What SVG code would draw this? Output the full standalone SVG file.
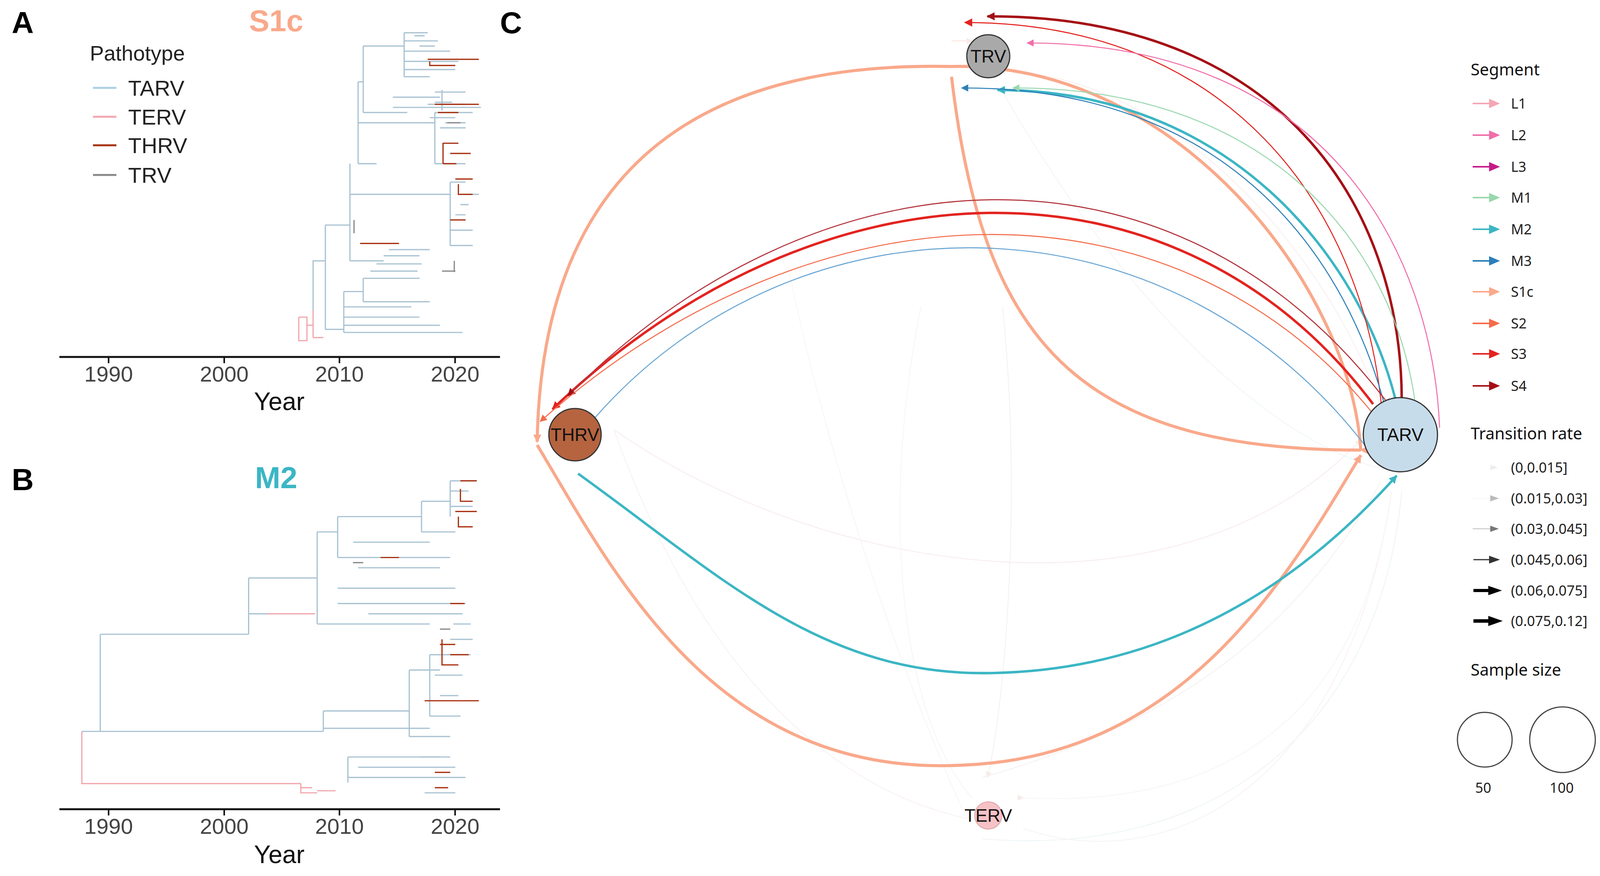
<svg xmlns="http://www.w3.org/2000/svg" width="4107" height="2243" viewBox="0 0 4107 2243">
<style>
.t{font-family:"Liberation Sans","Noto Sans",sans-serif;fill:#222}
.lab{font-family:"Liberation Sans",sans-serif;font-weight:bold;font-size:78px;fill:#000}
.ttl{font-family:"Liberation Sans",sans-serif;font-weight:bold;font-size:78px;text-anchor:middle}
.tick{font-family:"Liberation Sans",sans-serif;font-size:56px;fill:#444;text-anchor:middle}
.yr{font-family:"Liberation Sans",sans-serif;font-size:64px;fill:#111;text-anchor:middle}
.leg{font-family:"Noto Sans",sans-serif;font-size:42px;fill:#111}
.legs{font-family:"Noto Sans",sans-serif;font-size:36px;fill:#222}
.node{stroke:#333;stroke-width:3}
.nl{font-family:"Liberation Sans",sans-serif;font-size:46px;fill:#111;text-anchor:middle;dominant-baseline:central}
.tb{fill:none;stroke:#a9c3d3;stroke-width:1.2}
.tr{fill:none;stroke:#a8300f;stroke-width:1.2}
.tp{fill:none;stroke:#f1a7ad;stroke-width:1.2}
.tg{fill:none;stroke:#8a8a8a;stroke-width:1.2}
.e{fill:none}
</style>
<defs>
<marker id="mL1" viewBox="0 0 10 10" refX="9" refY="5" markerWidth="7" markerHeight="7" markerUnits="userSpaceOnUse" orient="auto"><path d="M0,0L10,5L0,10z" fill="#f4a6b4"/></marker>
<marker id="mL2" viewBox="0 0 10 10" refX="9" refY="5" markerWidth="7" markerHeight="7" markerUnits="userSpaceOnUse" orient="auto"><path d="M0,0L10,5L0,10z" fill="#f06ea9"/></marker>
<marker id="mL3" viewBox="0 0 10 10" refX="9" refY="5" markerWidth="7" markerHeight="7" markerUnits="userSpaceOnUse" orient="auto"><path d="M0,0L10,5L0,10z" fill="#c51b8a"/></marker>
<marker id="mM1" viewBox="0 0 10 10" refX="9" refY="5" markerWidth="7" markerHeight="7" markerUnits="userSpaceOnUse" orient="auto"><path d="M0,0L10,5L0,10z" fill="#99d8af"/></marker>
<marker id="mM2" viewBox="0 0 10 10" refX="9" refY="5" markerWidth="8" markerHeight="8" markerUnits="userSpaceOnUse" orient="auto"><path d="M0,0L10,5L0,10z" fill="#3bb6c4"/></marker>
<marker id="mM3" viewBox="0 0 10 10" refX="9" refY="5" markerWidth="7" markerHeight="7" markerUnits="userSpaceOnUse" orient="auto"><path d="M0,0L10,5L0,10z" fill="#2c7fb8"/></marker>
<marker id="mS1" viewBox="0 0 10 10" refX="9" refY="5" markerWidth="8" markerHeight="8" markerUnits="userSpaceOnUse" orient="auto"><path d="M0,0L10,5L0,10z" fill="#f9a98b"/></marker>
<marker id="mS2" viewBox="0 0 10 10" refX="9" refY="5" markerWidth="7" markerHeight="7" markerUnits="userSpaceOnUse" orient="auto"><path d="M0,0L10,5L0,10z" fill="#f46b4a"/></marker>
<marker id="mS3" viewBox="0 0 10 10" refX="9" refY="5" markerWidth="8" markerHeight="8" markerUnits="userSpaceOnUse" orient="auto"><path d="M0,0L10,5L0,10z" fill="#e3231f"/></marker>
<marker id="mS4" viewBox="0 0 10 10" refX="9" refY="5" markerWidth="8" markerHeight="8" markerUnits="userSpaceOnUse" orient="auto"><path d="M0,0L10,5L0,10z" fill="#a50f15"/></marker>
<marker id="mF" viewBox="0 0 10 10" refX="9" refY="5" markerWidth="6" markerHeight="6" markerUnits="userSpaceOnUse" orient="auto"><path d="M0,0L10,5L0,10z" fill="#f3d6d6"/></marker>
</defs>
<rect width="4107" height="2243" fill="#fff"/>

<text class="lab" x="30" y="85">A</text>
<text class="lab" x="30" y="1255">B</text>
<text class="lab" x="1280" y="85">C</text>
<text class="ttl" x="707" y="80" fill="#f9a98b">S1c</text>
<text class="ttl" x="707" y="1250" fill="#3bb6c4">M2</text>

<g id="legend-pathotype">
<text class="t" x="230" y="155" font-size="54">Pathotype</text>
<line x1="238" y1="225" x2="298" y2="225" stroke="#a9cfe3" stroke-width="5"/>
<line x1="238" y1="299" x2="298" y2="299" stroke="#f4a6b0" stroke-width="5"/>
<line x1="238" y1="372" x2="298" y2="372" stroke="#a8300f" stroke-width="5"/>
<line x1="238" y1="448" x2="298" y2="448" stroke="#888" stroke-width="5"/>
<text class="t" x="328" y="245" font-size="56">TARV</text>
<text class="t" x="328" y="319" font-size="56">TERV</text>
<text class="t" x="328" y="392" font-size="56">THRV</text>
<text class="t" x="328" y="468" font-size="56">TRV</text>
</g>

<g id="axis-a">
<line x1="152" y1="914" x2="1280" y2="914" stroke="#111" stroke-width="5"/>
<g stroke="#111" stroke-width="4"><line x1="278" y1="914" x2="278" y2="930"/><line x1="574" y1="914" x2="574" y2="930"/><line x1="869" y1="914" x2="869" y2="930"/><line x1="1165" y1="914" x2="1165" y2="930"/></g>
<text class="tick" x="278" y="977">1990</text><text class="tick" x="574" y="977">2000</text><text class="tick" x="869" y="977">2010</text><text class="tick" x="1165" y="977">2020</text>
<text class="yr" x="715" y="1050">Year</text>
</g>
<g id="axis-b">
<line x1="152" y1="2072" x2="1280" y2="2072" stroke="#111" stroke-width="5"/>
<g stroke="#111" stroke-width="4"><line x1="278" y1="2072" x2="278" y2="2088"/><line x1="574" y1="2072" x2="574" y2="2088"/><line x1="869" y1="2072" x2="869" y2="2088"/><line x1="1165" y1="2072" x2="1165" y2="2088"/></g>
<text class="tick" x="278" y="2135">1990</text><text class="tick" x="574" y="2135">2000</text><text class="tick" x="869" y="2135">2010</text><text class="tick" x="1165" y="2135">2020</text>
<text class="yr" x="715" y="2210">Year</text>
</g>

<g id="tree-a" transform="scale(2.6193)">
<path class="tp" d="M292,310V333H300V310H292M300,318H306M306,303V330M306,330H316"/>
<path class="tb" d="M306,303V255H318M318,220V322M318,220H342M318,322H336M336,285V325"/>
<path class="tb" d="M336,285H355M336,300H402M336,310H410M336,318H430M336,325H452M355,272V295M355,272H410M355,295H420M362,265H408M368,258H412M375,250H410M380,244H420"/>
<path class="tb" d="M342,160V255M342,255H375M342,190H440M440,178V240M440,178H455M440,240H462M448,190H468M450,200H458M445,210H455M440,225H462"/>
<path class="tb" d="M350,80V160M350,160H368M350,120H425M425,110V160M425,110H462M425,160H455M430,125H455M432,140H448M350,80H355M355,45V110M355,110H384M355,110H398M384,105H470M384,95H430"/>
<path class="tb" d="M355,45H395M395,32V75M395,32H418M395,40H428M395,50H440M395,60H448M395,68H445M395,75H420M405,35H415M410,45H425"/>
<path class="tb" d="M425,90H455M425,100H442M432,88V108M418,102H455M420,115H445M435,120H455"/>
<path class="tr" d="M418,58H468M420,60V64H445M425,102H468M428,110H448M433,140V160M433,140H448M433,160H446M440,150H460M445,175H462M448,180V190H462M352,238H390M440,215H455"/>
<path class="tg" d="M346,215V228M432,265H445M444,255V266M437,120H450"/>
</g>

<g id="tree-b" transform="scale(2.6193)">
<path class="tp" d="M80,715V766H294M294,766V775H310M294,770H305M310,773H328M260,600H308"/>
<path class="tb" d="M80,715H98M98,620V715M98,620H243M98,715H316M243,565V620M243,565H310M243,600H262M316,695V715M316,695H400M316,712H420M340,740V765M340,740H430M340,760H455M350,750H445"/>
<path class="tb" d="M310,520V610M310,520H330M310,610H420M330,505V545M330,505H412M330,545H440M345,530H420M350,555H430M330,575H445M330,590H455M360,600H452"/>
<path class="tb" d="M412,490V520M412,490H440M440,470V505M440,470H465M440,480H458M440,495H462M412,520H445M420,640V700M420,640H460M420,700H450M425,660H452M430,680H448M440,625H462M443,610H460"/>
<path class="tb" d="M400,655V720M400,655H430M400,720H440M410,740H440M415,775H445"/>
<path class="tr" d="M450,470H466M450,478V490H462M445,500H466M448,505V515H462M372,545H390M440,590H454M430,630H445M432,625V650H448M440,640H458M415,685H468M425,755H440M425,770H438"/>
<path class="tg" d="M345,550H355M430,615H440"/>
</g>

<g id="connectors" transform="scale(2.6193)">
<g class="e" stroke-width="0.8" opacity="0.5">
<path d="M600,420 C800,560 1150,620 1330,430" stroke="#f3dada" marker-end="url(#mF)"/>
<path d="M960,760 C1100,720 1250,650 1350,470" stroke="#efe4e4"/>
<path d="M1000,780 C1200,790 1330,700 1360,480" stroke="#eee" marker-start="url(#mF)"/>
<path d="M960,820 C1200,840 1350,700 1370,480" stroke="#dcebf0"/>
<path d="M980,300 C1000,500 980,700 965,760" stroke="#f2e0e0" marker-end="url(#mF)"/>
<path d="M900,300 C860,500 880,700 950,780" stroke="#efefef"/>
<path d="M980,90 C1100,300 1250,440 1360,460" stroke="#e1efef"/>
<path d="M990,70 C1150,80 1300,250 1350,400" stroke="#f5e0e0"/>
<path d="M600,420 C700,700 850,780 945,800" stroke="#f7e4e4"/>
<path d="M770,260 C820,500 900,700 940,790" stroke="#efefef"/>
<path d="M1000,810 C1150,860 1320,760 1360,480" stroke="#f2e8e8"/>
<path d="M930,40 H950" stroke="#f9c9b8" marker-end="url(#mF)"/>
</g>
<path class="e" d="M1330,440 C1050,440 960,330 930,75" stroke="#f9a98b" stroke-width="3" marker-start="url(#mS1)"/>
<path class="e" d="M1330,440 C1320,280 1150,60 930,65 C700,60 530,150 525,432" stroke="#f9a98b" stroke-width="3" marker-end="url(#mS1)"/>
<path class="e" d="M525,435 C600,560 700,760 940,748 C1160,740 1260,560 1330,445" stroke="#f9a98b" stroke-width="3" marker-end="url(#mS1)"/>
<path class="e" d="M565,463 C700,560 800,658 960,658 C1150,658 1280,560 1365,465" stroke="#3bb6c4" stroke-width="2.4" marker-end="url(#mM2)"/>
<path class="e" d="M1365,395 C1330,250 1200,88 975,88" stroke="#3bb6c4" stroke-width="2.4" marker-end="url(#mM2)"/>
<path class="e" d="M1370,392 C1370,200 1250,15 965,16" stroke="#a50f15" stroke-width="2.4" marker-end="url(#mS4)"/>
<path class="e" d="M1350,395 C1330,200 1200,22 943,22" stroke="#e3231f" stroke-width="1" marker-end="url(#mS3)"/>
<path class="e" d="M1407,418 C1400,250 1300,42 1004,42" stroke="#f06ea9" stroke-width="1" marker-end="url(#mL2)"/>
<path class="e" d="M1358,415 C1320,250 1200,85 940,86" stroke="#2c7fb8" stroke-width="1" marker-end="url(#mM3)"/>
<path class="e" d="M1385,410 C1370,250 1250,85 990,86" stroke="#99d8af" stroke-width="1" marker-end="url(#mM1)"/>
<path class="e" d="M1342,395 C1150,140 800,150 540,400" stroke="#e3231f" stroke-width="2.4" marker-end="url(#mS3)"/>
<path class="e" d="M1357,395 C1150,120 800,140 555,387" stroke="#b2323a" stroke-width="1" marker-end="url(#mS4)"/>
<path class="e" d="M1340,402 C1150,170 800,170 528,412" stroke="#f46b4a" stroke-width="1" marker-end="url(#mS2)"/>
<path class="e" d="M580,410 C780,180 1150,180 1345,450" stroke="#6aa6d4" stroke-width="1" marker-end="url(#mM3)"/>
</g>

<g id="node-TRV"><circle class="node" cx="2530" cy="144" r="55" fill="#a9a9a9"/><text class="nl" x="2530" y="144">TRV</text></g>
<g id="node-THRV"><circle class="node" cx="1472" cy="1113" r="67" fill="#b5643f"/><text class="nl" x="1472" y="1113">THRV</text></g>
<g id="node-TARV"><circle class="node" cx="3585" cy="1113" r="95" fill="#c7dcea"/><text class="nl" x="3585" y="1113">TARV</text></g>
<g id="node-TERV"><circle cx="2530" cy="2088" r="35" fill="#f7c2c6" stroke="#d9a5a8" stroke-width="2"/><text class="nl" x="2530" y="2088">TERV</text></g>

<g id="legend-segment">
<text class="leg" x="3765" y="193">Segment</text>
<g stroke-width="4">
<line x1="3770" y1="265" x2="3815" y2="265" stroke="#f4a6b4"/><path d="M3812,253L3840,265L3812,277z" fill="#f4a6b4"/>
<line x1="3770" y1="346" x2="3815" y2="346" stroke="#f06ea9"/><path d="M3812,334L3840,346L3812,358z" fill="#f06ea9"/>
<line x1="3770" y1="427" x2="3815" y2="427" stroke="#c51b8a"/><path d="M3812,415L3840,427L3812,439z" fill="#c51b8a"/>
<line x1="3770" y1="506" x2="3815" y2="506" stroke="#99d8af"/><path d="M3812,494L3840,506L3812,518z" fill="#99d8af"/>
<line x1="3770" y1="587" x2="3815" y2="587" stroke="#3bb6c4"/><path d="M3812,575L3840,587L3812,599z" fill="#3bb6c4"/>
<line x1="3770" y1="668" x2="3815" y2="668" stroke="#2c7fb8"/><path d="M3812,656L3840,668L3812,680z" fill="#2c7fb8"/>
<line x1="3770" y1="747" x2="3815" y2="747" stroke="#f9a98b"/><path d="M3812,735L3840,747L3812,759z" fill="#f9a98b"/>
<line x1="3770" y1="828" x2="3815" y2="828" stroke="#f46b4a"/><path d="M3812,816L3840,828L3812,840z" fill="#f46b4a"/>
<line x1="3770" y1="906" x2="3815" y2="906" stroke="#e3231f"/><path d="M3812,894L3840,906L3812,918z" fill="#e3231f"/>
<line x1="3770" y1="988" x2="3815" y2="988" stroke="#a50f15"/><path d="M3812,976L3840,988L3812,1000z" fill="#a50f15"/>
</g>
<text class="legs" x="3868" y="278">L1</text><text class="legs" x="3868" y="359">L2</text><text class="legs" x="3868" y="440">L3</text>
<text class="legs" x="3868" y="519">M1</text><text class="legs" x="3868" y="600">M2</text><text class="legs" x="3868" y="681">M3</text>
<text class="legs" x="3868" y="760">S1c</text><text class="legs" x="3868" y="841">S2</text><text class="legs" x="3868" y="919">S3</text><text class="legs" x="3868" y="1001">S4</text>
</g>

<g id="legend-rate">
<text class="leg" x="3765" y="1125">Transition rate</text>
<path d="M3815,1190L3835,1197L3815,1204z" fill="#eee"/>
<line x1="3770" y1="1276" x2="3815" y2="1276" stroke="#eee" stroke-width="1"/><path d="M3815,1268L3837,1276L3815,1284z" fill="#bbb"/>
<line x1="3770" y1="1354" x2="3815" y2="1354" stroke="#aaa" stroke-width="1.5"/><path d="M3815,1346L3837,1354L3815,1362z" fill="#777"/>
<line x1="3772" y1="1433" x2="3815" y2="1433" stroke="#333" stroke-width="3"/><path d="M3812,1423L3840,1433L3812,1443z" fill="#333"/>
<line x1="3772" y1="1512" x2="3815" y2="1512" stroke="#000" stroke-width="8"/><path d="M3810,1500L3845,1512L3810,1524z" fill="#000"/>
<line x1="3772" y1="1590" x2="3815" y2="1590" stroke="#000" stroke-width="9"/><path d="M3810,1577L3847,1590L3810,1603z" fill="#000"/>
<text class="legs" x="3868" y="1210">(0,0.015]</text>
<text class="legs" x="3868" y="1289">(0.015,0.03]</text>
<text class="legs" x="3868" y="1367">(0.03,0.045]</text>
<text class="legs" x="3868" y="1446">(0.045,0.06]</text>
<text class="legs" x="3868" y="1525">(0.06,0.075]</text>
<text class="legs" x="3868" y="1603">(0.075,0.12]</text>
</g>

<g id="legend-size">
<text class="leg" x="3765" y="1730">Sample size</text>
<circle cx="3801" cy="1894" r="70" fill="none" stroke="#444" stroke-width="3"/>
<circle cx="4000" cy="1894" r="84" fill="none" stroke="#444" stroke-width="3"/>
<text class="legs" x="3797" y="2030" text-anchor="middle">50</text>
<text class="legs" x="3998" y="2030" text-anchor="middle">100</text>
</g>
</svg>
